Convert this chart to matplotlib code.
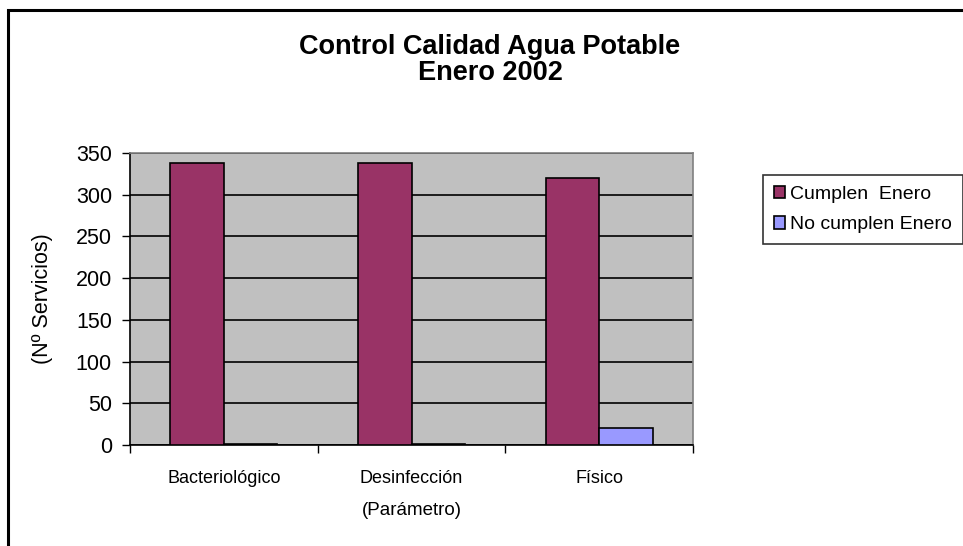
import matplotlib
matplotlib.use("Agg")
import matplotlib.pyplot as plt
import numpy as np
from matplotlib.patches import Rectangle

plt.rcParams['font.family'] = ['Liberation Sans', 'DejaVu Sans']

categories = ["Bacteriológico", "Desinfección", "Físico"]
cumplen = [338, 338, 320]
no_cumplen = [1, 1, 20]
series_names = ["Cumplen  Enero", "No cumplen Enero"]
y_ticks = [0, 50, 100, 150, 200, 250, 300, 350]

fig = plt.figure(figsize=(9.63, 5.46), dpi=100)
fig.patches.append(Rectangle((8 / 963, -0.1), 1.2, (546 - 10) / 546 + 0.1,
                             transform=fig.transFigure, fill=False,
                             edgecolor="black", linewidth=2.2))

ax = fig.add_axes([130 / 963, 101 / 546, 563 / 963, 292 / 546])
ax.set_facecolor("#c0c0c0")

x = np.arange(len(categories))
w = 1 / 3.5
ax.bar(x - w / 2, cumplen, w, color="#993366", edgecolor="black",
       linewidth=1.2, label=series_names[0], zorder=3)
ax.bar(x + w / 2, no_cumplen, w, color="#9999ff", edgecolor="black",
       linewidth=1.2, label=series_names[1], zorder=3)

ax.set_xlim(-0.5, len(categories) - 0.5)
ax.set_ylim(0, 350)
ax.set_yticks(y_ticks)
ax.yaxis.grid(True, color="black", linewidth=1.2, zorder=1)
ax.set_axisbelow(True)

ax.set_xticks(x)
ax.set_xticklabels(categories, fontsize=13)
ax.tick_params(axis="x", length=0, pad=18)
ax.set_xticks(np.arange(len(categories) + 1) - 0.5, minor=True)
ax.tick_params(axis="x", which="minor", length=6, width=1, direction="out")
ax.tick_params(axis="y", labelsize=15.5, length=6, width=1, direction="out",
               pad=7)

for s in ["top", "right"]:
    ax.spines[s].set_color("#808080")
    ax.spines[s].set_linewidth(1.2)
for s in ["left", "bottom"]:
    ax.spines[s].set_color("black")
    ax.spines[s].set_linewidth(1.2)

ax.set_ylabel("(Nº Servicios)", fontsize=15.5, labelpad=16)
ax.set_xlabel("(Parámetro)", fontsize=13.5, labelpad=11)

fig.text(490 / 963, 1 - 60 / 546, "Control Calidad Agua Potable\nEnero 2002",
         ha="center", va="center", fontsize=19.5, fontweight="bold",
         linespacing=1.0)

leg = fig.legend(loc="upper left", bbox_to_anchor=(763 / 963, 1 - 175 / 546),
                 fontsize=14, frameon=True, fancybox=False, handlelength=0.6,
                 handleheight=0.6, handletextpad=0.25, borderpad=0.55,
                 labelspacing=0.7, borderaxespad=0)
leg.get_frame().set_edgecolor("black")
leg.get_frame().set_linewidth(1.2)

fig.savefig("out.png", dpi=100)
